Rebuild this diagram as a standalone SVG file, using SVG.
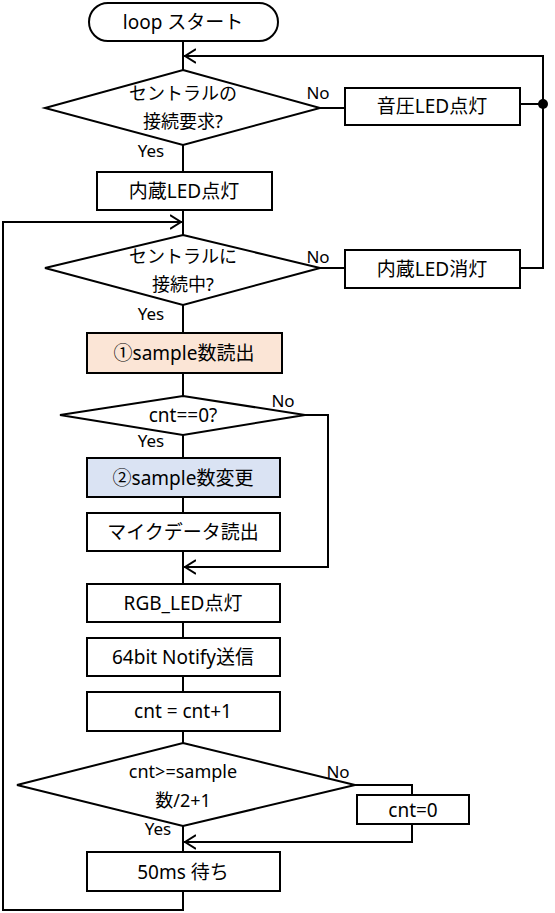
<svg xmlns="http://www.w3.org/2000/svg" width="555" height="913" viewBox="0 0 555 913">
<style>
.s{fill:#fff;stroke:#000;stroke-width:2}
.c{fill:none;stroke:#000;stroke-width:2}
text{font-family:"Noto Sans","Noto Sans CJK JP",sans-serif;font-size:19px;fill:#000;text-anchor:middle;dominant-baseline:central}
.d{font-size:18px}
.l{font-size:17px}
</style>
<defs>
<marker id="a" viewBox="0 0 12 16" refX="12" refY="8" markerWidth="12" markerHeight="16" markerUnits="userSpaceOnUse" orient="auto">
<path d="M0,1 L11,8 L0,15" fill="none" stroke="#000" stroke-width="2"/>
</marker>
</defs>
<g id="connectors">
<path class="c" d="M183,41 V70"/>
<path class="c" d="M543,104 V56 H184" marker-end="url(#a)"/>
<path class="c" d="M320,108 H345"/>
<path class="c" d="M520,104 H543"/>
<path class="c" d="M520,268 H543 V104"/>
<circle cx="543" cy="104" r="5" fill="#000"/>
<path class="c" d="M183,145 V172"/>
<path class="c" d="M183,210 V235"/>
<path class="c" d="M320,268 H345"/>
<path class="c" d="M183,305 V333"/>
<path class="c" d="M183,373 V396"/>
<path class="c" d="M183,435 V458"/>
<path class="c" d="M183,497 V513"/>
<path class="c" d="M183,551 V584"/>
<path class="c" d="M305,415 H328 V567 H184" marker-end="url(#a)"/>
<path class="c" d="M183,622 V638"/>
<path class="c" d="M183,676 V692"/>
<path class="c" d="M183,731 V743"/>
<path class="c" d="M183,826 V852"/>
<path class="c" d="M355,785 H412 V795"/>
<path class="c" d="M412,824 V842 H184" marker-end="url(#a)"/>
<path class="c" d="M183,891 V910 H3 V222 H182" marker-end="url(#a)"/>
</g>
<g id="start">
<rect class="s" x="89" y="3" width="189" height="38" rx="19"/>
<text x="183" y="22">loop スタート</text>
</g>
<g id="d1">
<polygon class="s" points="183,70 320,108 183,145 45,108"/>
<text class="d" x="183" y="93">セントラルの</text>
<text class="d" x="183" y="121">接続要求?</text>
<text class="l" x="318" y="92">No</text>
<text class="l" x="151" y="150">Yes</text>
</g>
<g id="b1">
<rect class="s" x="345" y="88" width="175" height="37"/>
<text x="432" y="106">音圧LED点灯</text>
</g>
<g id="b2">
<rect class="s" x="97" y="172" width="175" height="38"/>
<text x="184" y="191">内蔵LED点灯</text>
</g>
<g id="d2">
<polygon class="s" points="183,235 320,268 183,305 45,268"/>
<text class="d" x="183" y="256">セントラルに</text>
<text class="d" x="183" y="284">接続中?</text>
<text class="l" x="318" y="256">No</text>
<text class="l" x="151" y="313">Yes</text>
</g>
<g id="b3">
<rect class="s" x="345" y="250" width="175" height="38"/>
<text x="432" y="269">内蔵LED消灯</text>
</g>
<g id="b4">
<rect x="87" y="333" width="195" height="40" fill="#fbe5d6" stroke="#000" stroke-width="2"/>
<text x="184" y="353">①sample数読出</text>
</g>
<g id="d3">
<polygon class="s" points="183,396 305,415 183,435 60,415"/>
<text x="183" y="415">cnt==0?</text>
<text class="l" x="283" y="400">No</text>
<text class="l" x="151" y="440">Yes</text>
</g>
<g id="b5">
<rect x="87" y="458" width="193" height="39" fill="#dae3f3" stroke="#000" stroke-width="2"/>
<text x="183" y="478">②sample数変更</text>
</g>
<g id="b6">
<rect class="s" x="87" y="513" width="193" height="38"/>
<text x="183" y="532">マイクデータ読出</text>
</g>
<g id="b7">
<rect class="s" x="87" y="584" width="193" height="38"/>
<text x="183" y="603">RGB_LED点灯</text>
</g>
<g id="b8">
<rect class="s" x="87" y="638" width="193" height="38"/>
<text x="183" y="657">64bit Notify送信</text>
</g>
<g id="b9">
<rect class="s" x="87" y="692" width="193" height="39"/>
<text x="183" y="711">cnt = cnt+1</text>
</g>
<g id="d4">
<polygon class="s" points="183,743 355,785 183,826 17,785"/>
<text class="d" x="183" y="771">cnt&gt;=sample</text>
<text class="d" x="183" y="800">数/2+1</text>
<text class="l" x="338" y="771">No</text>
<text class="l" x="158" y="828">Yes</text>
</g>
<g id="b10">
<rect class="s" x="357" y="795" width="112" height="29"/>
<text x="413" y="810">cnt=0</text>
</g>
<g id="b11">
<rect class="s" x="87" y="852" width="193" height="39"/>
<text x="183" y="872">50ms 待ち</text>
</g>
</svg>
